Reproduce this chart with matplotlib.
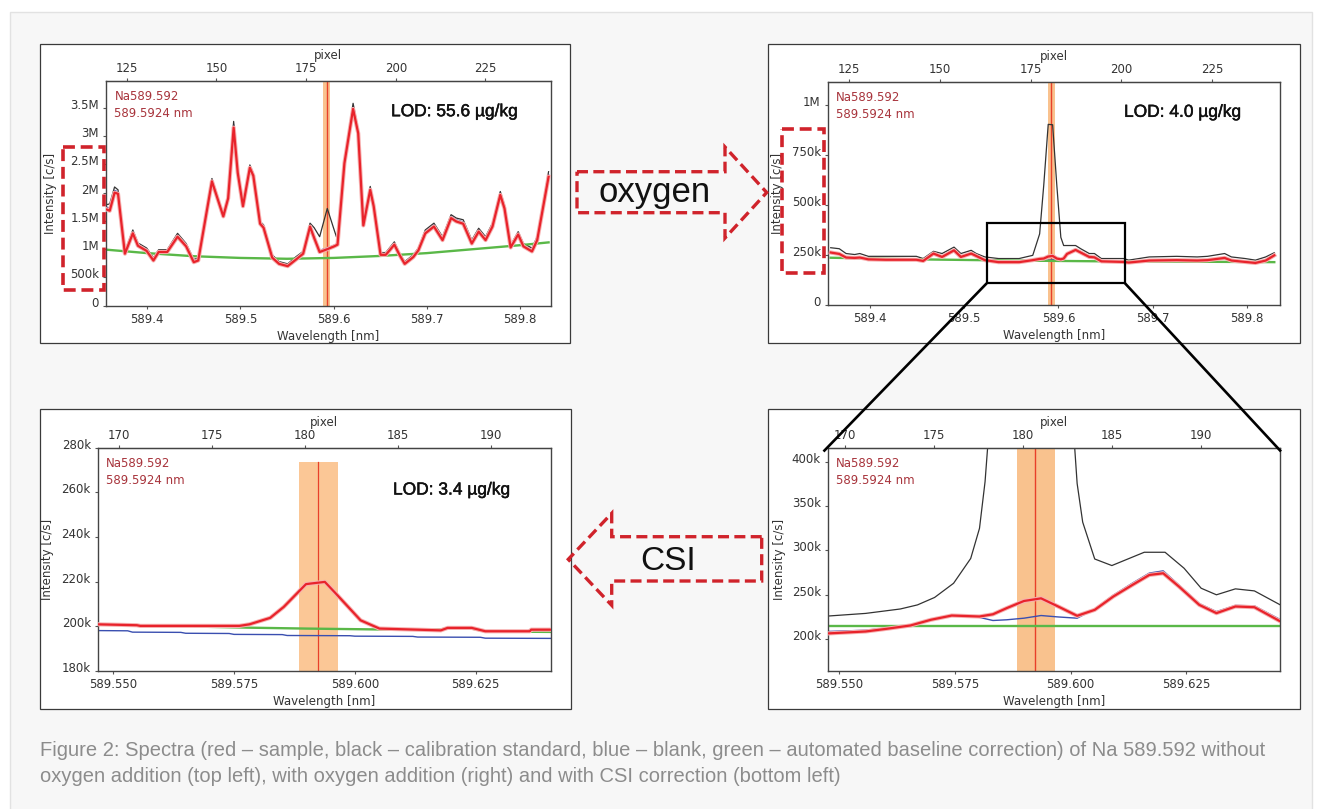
import matplotlib
matplotlib.use("Agg")
import matplotlib.pyplot as plt
import matplotlib.patheffects as pe
from matplotlib.patches import Rectangle, Polygon
from matplotlib.transforms import ScaledTranslation

W, H = 1320, 809

# ---- data: Na 589.592 spectra ----
# panel 1: without oxygen (intensity in M c/s)
wl1 = [589.3568, 589.3597, 589.3649, 589.3686, 589.3760, 589.3845, 589.3900, 589.3993, 589.4066, 589.4122,
       589.4214, 589.4325, 589.4417, 589.4499, 589.4547, 589.4694, 589.4816, 589.4868, 589.4927, 589.4971,
       589.5027, 589.5101, 589.5138, 589.5211, 589.5248, 589.5341, 589.5415, 589.5507, 589.5599, 589.5673,
       589.5747, 589.5791, 589.5850, 589.5932, 589.6006, 589.6042, 589.6116, 589.6209, 589.6264, 589.6319,
       589.6393, 589.6430, 589.6504, 589.6560, 589.6652, 589.6707, 589.6763, 589.6855, 589.6910, 589.6984,
       589.7077, 589.7169, 589.7261, 589.7317, 589.7391, 589.7483, 589.7557, 589.7631, 589.7705, 589.7789,
       589.7834, 589.7900, 589.7981, 589.8037, 589.8129, 589.8185, 589.8307]
red1 = [1.70, 1.68, 2.00, 1.98, 0.92, 1.28, 1.06, 0.97, 0.80, 0.95,
        0.95, 1.22, 1.05, 0.77, 0.80, 2.20, 1.58, 1.90, 3.15, 2.35,
        1.76, 2.44, 2.30, 1.45, 1.38, 0.85, 0.74, 0.70, 0.82, 0.92,
        1.40, 1.20, 0.95, 1.00, 1.05, 1.08, 2.52, 3.48, 3.05, 1.42,
        2.05, 1.76, 0.90, 0.90, 1.08, 0.90, 0.74, 0.86, 0.98, 1.28,
        1.40, 1.16, 1.55, 1.49, 1.45, 1.10, 1.31, 1.16, 1.40, 1.96,
        1.72, 1.03, 1.26, 1.05, 0.96, 1.16, 2.28]
black1 = [1.79, 1.80, 2.10, 2.05, 0.96, 1.34, 1.11, 1.02, 0.85, 0.99,
          0.99, 1.28, 1.10, 0.82, 0.84, 2.25, 1.62, 1.94, 3.26, 2.40,
          1.81, 2.49, 2.34, 1.49, 1.43, 0.90, 0.78, 0.74, 0.87, 0.96,
          1.46, 1.38, 1.22, 1.72, 1.34, 1.16, 2.58, 3.58, 3.11, 1.46,
          2.11, 1.81, 0.94, 0.94, 1.13, 0.93, 0.78, 0.90, 1.02, 1.34,
          1.46, 1.22, 1.61, 1.55, 1.52, 1.16, 1.37, 1.22, 1.46, 2.02,
          1.78, 1.07, 1.31, 1.10, 1.02, 1.22, 2.37]
blue1 = [1.74, 1.72, 2.04, 2.01, 0.94, 1.31, 1.08, 0.99, 0.82, 0.97,
         0.97, 1.25, 1.07, 0.79, 0.82, 2.22, 1.60, 1.92, 3.20, 2.37,
         1.78, 2.46, 2.32, 1.47, 1.40, 0.87, 0.76, 0.72, 0.84, 0.94,
         1.42, 1.24, 0.98, 1.02, 1.07, 1.10, 2.55, 3.52, 3.08, 1.44,
         2.08, 1.78, 0.92, 0.92, 1.10, 0.92, 0.76, 0.88, 1.00, 1.31,
         1.43, 1.19, 1.58, 1.52, 1.48, 1.13, 1.34, 1.19, 1.43, 1.99,
         1.75, 1.05, 1.28, 1.07, 0.99, 1.19, 2.32]
wl1_base = [589.3568, 589.40, 589.45, 589.50, 589.55, 589.60, 589.65, 589.70, 589.75, 589.80, 589.8307]
green1 = [0.99, 0.93, 0.875, 0.845, 0.83, 0.845, 0.88, 0.93, 1.00, 1.07, 1.12]

# panel 2: with oxygen (M c/s)
wl2 = [589.3582, 589.3673, 589.3745, 589.3836, 589.3891, 589.3982, 589.4164, 589.4345, 589.4491, 589.4564,
       589.4673, 589.4764, 589.4891, 589.4964, 589.5073, 589.5127, 589.5218, 589.5364, 589.5582, 589.5727,
       589.5800, 589.5844, 589.5891, 589.5938, 589.5982, 589.6025, 589.6055, 589.6091, 589.6182, 589.6236,
       589.6327, 589.6382, 589.6455, 589.6691, 589.6745, 589.6964, 589.7255, 589.7473, 589.7582, 589.7764,
       589.7836, 589.7982, 589.8091, 589.8200, 589.8291]
black2 = [0.286, 0.281, 0.257, 0.252, 0.257, 0.243, 0.243, 0.243, 0.243, 0.232,
          0.268, 0.257, 0.289, 0.257, 0.273, 0.257, 0.240, 0.232, 0.232, 0.248,
          0.355, 0.600, 0.902, 0.900, 0.600, 0.338, 0.297, 0.297, 0.297, 0.281,
          0.257, 0.257, 0.232, 0.232, 0.224, 0.240, 0.243, 0.240, 0.243, 0.257,
          0.240, 0.232, 0.224, 0.240, 0.261]
red2 = [0.262, 0.255, 0.237, 0.235, 0.237, 0.228, 0.226, 0.226, 0.226, 0.220,
        0.257, 0.240, 0.273, 0.240, 0.257, 0.245, 0.224, 0.214, 0.214, 0.224,
        0.230, 0.232, 0.242, 0.245, 0.232, 0.228, 0.232, 0.255, 0.275, 0.262,
        0.240, 0.238, 0.218, 0.215, 0.212, 0.222, 0.224, 0.222, 0.224, 0.235,
        0.222, 0.215, 0.210, 0.222, 0.248]
blue2 = [0.258, 0.252, 0.236, 0.234, 0.236, 0.228, 0.226, 0.227, 0.226, 0.221,
         0.255, 0.240, 0.271, 0.241, 0.256, 0.245, 0.225, 0.215, 0.216, 0.224,
         0.226, 0.222, 0.224, 0.226, 0.224, 0.224, 0.230, 0.256, 0.277, 0.264,
         0.242, 0.240, 0.220, 0.217, 0.214, 0.224, 0.226, 0.224, 0.226, 0.237,
         0.224, 0.217, 0.212, 0.224, 0.250]
wl2_base = [589.3582, 589.45, 589.55, 589.65, 589.75, 589.8291]
green2 = [0.236, 0.228, 0.222, 0.218, 0.216, 0.214]

# panel 3: CSI corrected (k c/s)
wl3 = [589.5468, 589.5549, 589.5556, 589.5761, 589.5782, 589.5825, 589.5853, 589.5899, 589.5910, 589.5938,
       589.5959, 589.6012, 589.6051, 589.6178, 589.6192, 589.6242, 589.6270, 589.6362, 589.6365, 589.6406]
red3 = [200.9, 200.5, 200.2, 200.2, 200.9, 203.8, 208.7, 218.9, 219.2, 219.9,
        215.1, 202.7, 199.0, 198.2, 199.3, 199.3, 197.8, 197.8, 198.5, 198.5]
wl3_base = [589.5669, 589.5782, 589.5899, 589.6051, 589.6178, 589.6192, 589.6242, 589.6270, 589.6406]
green3 = [199.9, 199.4, 199.0, 198.6, 198.6, 199.2, 199.0, 197.7, 197.5]
wl3_blank = [589.5468, 589.5530, 589.5540, 589.5640, 589.5650, 589.5740, 589.5750, 589.5850,
             589.5860, 589.5990, 589.6000, 589.6120, 589.6130, 589.6260, 589.6270, 589.6406]
blue3 = [198.1, 198.0, 197.4, 197.3, 196.9, 196.8, 196.4, 196.3,
         195.9, 195.8, 195.6, 195.5, 195.2, 195.1, 194.7, 194.6]

# panel 4: zoom of panel 2 (k c/s)
wl4_std = [589.5475, 589.5557, 589.5632, 589.5669, 589.5706, 589.5747, 589.5784, 589.5803, 589.5815, 589.5850,
           589.5891, 589.5938, 589.5982, 589.6014, 589.6026, 589.6052, 589.6089, 589.6159, 589.6204, 589.6245,
           589.6282, 589.6315, 589.6356, 589.6397, 589.6453]
black4 = [226, 229, 234, 238.6, 247, 263, 291, 325, 377.5, 620,
          900, 900, 620, 375.6, 332, 290.4, 283, 298, 298, 280,
          257.4, 250, 256.7, 254.4, 238.6]
wl4 = [589.5475, 589.5557, 589.5602, 589.5654, 589.5698, 589.5743, 589.5803, 589.5832, 589.5862, 589.5899,
       589.5936, 589.5973, 589.6014, 589.6052, 589.6092, 589.6133, 589.6170, 589.6200, 589.6234, 589.6278,
       589.6315, 589.6356, 589.6397, 589.6453]
red4 = [206.4, 208.6, 211.6, 215.4, 221.8, 226.6, 225.5, 228.0, 235.0, 243.0,
        246.0, 236.8, 226.3, 233.0, 248.0, 261.0, 272.4, 274.3, 259.3, 238.6,
        229.3, 236.8, 236.0, 220.0]
blue4 = [208.6, 210.0, 212.5, 216.0, 222.0, 226.6, 224.5, 221.0, 221.8, 223.6,
         226.6, 225.0, 223.6, 234.0, 249.5, 263.0, 274.5, 277.0, 261.0, 240.0,
         231.0, 238.0, 237.5, 222.0]
wl4_base = [589.5475, 589.6453]
green4 = [214.3, 214.3]

line_wl = 589.5924
band = (589.5884, 589.5966)

# ---- figure ----
fig = plt.figure(figsize=(W / 100, H / 100), dpi=100)
fig.patch.set_facecolor('white')


def fbox(x0, y0, x1, y1):
    return [x0 / W, 1 - y1 / H, (x1 - x0) / W, (y1 - y0) / H]


bg = fig.add_axes([0, 0, 1, 1], zorder=0)
bg.set_xlim(0, W)
bg.set_ylim(H, 0)
bg.axis('off')
bg.add_patch(Rectangle((10, 12), 1302, 800, facecolor='#f7f7f7', edgecolor='#e2e2e2', lw=1))
frames = [(39.5, 43.5, 569.5, 342.5), (767.5, 43.5, 1299.5, 342.5),
          (39.5, 408.5, 570.5, 708.5), (767.5, 408.5, 1299.5, 708.5)]
for x0, y0, x1, y1 in frames:
    bg.add_patch(Rectangle((x0, y0), x1 - x0, y1 - y0, facecolor='white', edgecolor='#3a3a3a', lw=0.9))


def wl2px(w):
    return 180.7 + (w - 589.5924) / 0.00385


def px2wl(p):
    return 589.5924 + (p - 180.7) * 0.00385


TC = '#333333'
FS = 8.5
shift = ScaledTranslation(0, 0.04, fig.dpi_scale_trans)


def panel(pos, xlim, ylim, yticks, ylabels, xticks, xlabels, pticks, ylab_x, band_top=None):
    ax = fig.add_axes(fbox(*pos), zorder=1)
    ax.set_facecolor('white')
    ax.set_xlim(*xlim)
    ax.set_ylim(*ylim)
    ax.set_yticks(yticks)
    ax.set_yticklabels(ylabels)
    ax.set_xticks(xticks)
    ax.set_xticklabels(xlabels)
    ax.tick_params(length=2, width=0.8, colors='#555555', labelcolor=TC, labelsize=FS, pad=3)
    for lab in ax.get_yticklabels():
        lab.set_transform(lab.get_transform() + shift)
    for s in ax.spines.values():
        s.set_color('#444444')
        s.set_linewidth(1)
    ax.set_xlabel('Wavelength [nm]', fontsize=FS, color=TC, labelpad=3)
    ax.set_ylabel('Intensity [c/s]', fontsize=FS, color=TC, va='center')
    ax.yaxis.set_label_coords((ylab_x - pos[0]) / (pos[2] - pos[0]), 0.5)
    sec = ax.secondary_xaxis('top', functions=(wl2px, px2wl))
    sec.set_xticks(pticks)
    sec.tick_params(length=2, width=0.8, colors='#555555', labelcolor=TC, labelsize=FS, pad=2)
    sec.set_xlabel('pixel', fontsize=FS, color=TC, labelpad=2)
    sec.spines['top'].set_color('#444444')
    if band_top is None:
        ax.axvspan(band[0], band[1], color='#f9c28e', lw=0, zorder=0.5)
        ax.axvline(line_wl, color='#e8402a', lw=1.0, zorder=0.6)
    else:
        ax.fill_between(band, [ylim[0]] * 2, [band_top] * 2, color='#fbc796', lw=0, zorder=0.5)
        ax.plot([line_wl, line_wl], [ylim[0], band_top], color='#e8402a', lw=0.9, zorder=0.6)
    return ax


red_fx = [pe.Stroke(linewidth=3.0, foreground='#f7b0b0'), pe.Normal()]


def draw(ax, wl_blue, blue, wl_black, black, wl_green, green, wl_red, red):
    if blue is not None:
        ax.plot(wl_blue, blue, color='#3a4fb0', lw=1.0, zorder=2)
    if black is not None:
        ax.plot(wl_black, black, color='#333333', lw=0.9, zorder=2.2)
    ax.plot(wl_green, green, color='#5ab848', lw=1.7, zorder=2.4)
    ax.plot(wl_red, red, color='#e8232b', lw=1.6, zorder=2.6, path_effects=red_fx)


wide_x = [589.4, 589.5, 589.6, 589.7, 589.8]
wide_xl = ['589.4', '589.5', '589.6', '589.7', '589.8']
narrow_x = [589.550, 589.575, 589.600, 589.625]
narrow_xl = ['589.550', '589.575', '589.600', '589.625']

pos1 = (106, 80.7, 550.7, 305.7)
pos2 = (827.7, 81.7, 1280.3, 305)
pos3 = (97.7, 447.7, 551, 671)
pos4 = (827.7, 447.7, 1280.3, 671)

ax1 = panel(pos1, (589.3557, 589.833), (0, 3.98),
            [0, 0.5, 1, 1.5, 2, 2.5, 3, 3.5], ['0', '500k', '1M', '1.5M', '2M', '2.5M', '3M', '3.5M'],
            wide_x, wide_xl, [125, 150, 175, 200, 225], 50)
draw(ax1, wl1, blue1, wl1, black1, wl1_base, green1, wl1, red1)

ax2 = panel(pos2, (589.355, 589.8355), (0, 1.115),
            [0, 0.25, 0.5, 0.75, 1.0], ['0', '250k', '500k', '750k', '1M'],
            wide_x, wide_xl, [125, 150, 175, 200, 225], 778)
draw(ax2, wl2, blue2, wl2, black2, wl2_base, green2, wl2, red2)

ax3 = panel(pos3, (589.5468, 589.6406), (180, 280),
            [180, 200, 220, 240, 260, 280], ['180k', '200k', '220k', '240k', '260k', '280k'],
            narrow_x, narrow_xl, [170, 175, 180, 185, 190], 48, band_top=273.4)
draw(ax3, wl3_blank, blue3, None, None, wl3_base, green3, wl3, red3)

ax4 = panel(pos4, (589.5475, 589.6453), (164, 416),
            [200, 250, 300, 350, 400], ['200k', '250k', '300k', '350k', '400k'],
            narrow_x, narrow_xl, [170, 175, 180, 185, 190], 779)
draw(ax4, wl4, blue4, wl4_std, black4, wl4_base, green4, wl4, red4)

# ---- overlay: annotations in pixel coordinates ----
ov = fig.add_axes([0, 0, 1, 1], zorder=10)
ov.set_xlim(0, W)
ov.set_ylim(H, 0)
ov.axis('off')
ov.patch.set_alpha(0)

for (x0, y0, x1, y1) in (pos1, pos2, pos3, pos4):
    ov.text(x0 + 8.5, y0 + 15.5, 'Na589.592', color='#a8343c', fontsize=FS, va='center')
    ov.text(x0 + 8.5, y0 + 32.5, '589.5924 nm', color='#a8343c', fontsize=FS, va='center')

lod_font = dict(family='Liberation Sans', fontsize=12.5, color='#111111', va='center',
                path_effects=[pe.withStroke(linewidth=0.35, foreground='#111111')])
ov.text(391, 111.7, 'LOD: 55.6 µg/kg', **lod_font)
ov.text(1124, 112.3, 'LOD: 4.0 µg/kg', **lod_font)
ov.text(393, 490, 'LOD: 3.4 µg/kg', **lod_font)

DR = '#d0232b'
dash = (0, (3.3, 1.6))
ov.add_patch(Rectangle((63, 147), 41, 143, fill=False, edgecolor=DR, lw=2.6, ls=dash))
ov.add_patch(Rectangle((782, 129), 42, 144, fill=False, edgecolor=DR, lw=2.6, ls=dash))

oxy = [(577, 171.7), (725, 171.7), (725, 147), (766.7, 192.5), (725, 238), (725, 212.7), (577, 212.7)]
ov.add_patch(Polygon(oxy, closed=True, fill=False, edgecolor=DR, lw=2.4, ls=dash, joinstyle='miter'))
ov.text(655, 201.7, 'oxygen', family='Liberation Sans', fontsize=25, color='#111111',
        ha='center', va='baseline')

csi = [(761.7, 536.7), (611.7, 536.7), (611.7, 513.3), (568.3, 559.3), (611.7, 605.3), (611.7, 581), (761.7, 581)]
ov.add_patch(Polygon(csi, closed=True, fill=False, edgecolor=DR, lw=2.4, ls=dash, joinstyle='miter'))
ov.text(668.3, 570, 'CSI', family='Liberation Sans', fontsize=24, color='#111111',
        ha='center', va='baseline')

ov.add_patch(Rectangle((986.7, 222.7), 138.3, 60.6, fill=False, edgecolor='black', lw=1.6))
ov.plot([986.7, 823.5], [283.3, 451.5], color='black', lw=1.9, solid_capstyle='butt')
ov.plot([1125, 1281], [283.3, 451.5], color='black', lw=1.9, solid_capstyle='butt')

cap_font = dict(family='Liberation Sans', fontsize=14.5, color='#8c8c8c', va='center')
ov.text(40, 750, 'Figure 2: Spectra (red \u2013 sample, black \u2013 calibration standard, blue \u2013 blank, '
        'green \u2013 automated baseline correction) of Na 589.592 without', **cap_font)
ov.text(40, 777, 'oxygen addition (top left), with oxygen addition (right) and with CSI correction (bottom left)',
        **cap_font)

fig.savefig('out.png', dpi=100, facecolor='white')
